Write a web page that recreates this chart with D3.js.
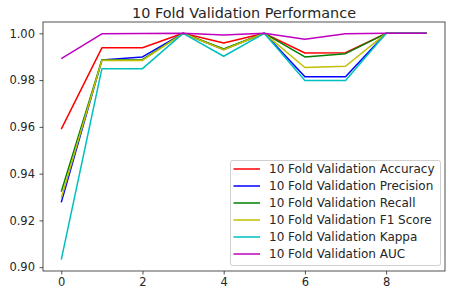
<!DOCTYPE html>
<html>
<head>
<meta charset="utf-8">
<script src="https://cdn.jsdelivr.net/npm/d3@7"></script>
<style>
  body { margin: 0; background: #fff; }
  text { font-family: "DejaVu Sans", sans-serif; }
</style>
</head>
<body>
<div id="chart"></div>
<script>
// data
var folds = [0, 1, 2, 3, 4, 5, 6, 7, 8, 9];
var accuracy  = [0.9590, 0.9938, 0.9938, 1.0000, 0.9959, 1.0000, 0.9916, 0.9917, 1.0000, 1.0000];
var precision = [0.9277, 0.9886, 0.9899, 1.0000, 0.9931, 1.0000, 0.9814, 0.9814, 1.0000, 1.0000];
var recall    = [0.9323, 0.9886, 0.9887, 1.0000, 0.9933, 1.0000, 0.9899, 0.9913, 1.0000, 1.0000];
var f1score   = [0.9296, 0.9885, 0.9884, 1.0000, 0.9930, 1.0000, 0.9854, 0.9859, 1.0000, 1.0000];
var kappa     = [0.9032, 0.9849, 0.9849, 1.0000, 0.9902, 1.0000, 0.9798, 0.9798, 1.0000, 1.0000];
var auc       = [0.9892, 0.9998, 0.9999, 1.0000, 0.9993, 1.0000, 0.9975, 0.9998, 1.0000, 1.0000];
var seriesNames = ["10 Fold Validation Accuracy", "10 Fold Validation Precision", "10 Fold Validation Recall",
                   "10 Fold Validation F1 Score", "10 Fold Validation Kappa", "10 Fold Validation AUC"];
var xTicks = [0, 2, 4, 6, 8];
var yTicks = [0.90, 0.92, 0.94, 0.96, 0.98, 1.00];

var w = 454, h = 294;
var plotLeft = 43, plotRight = 445, plotTop = 22, plotBottom = 271;
var colors = ["#ff0000", "#0000ff", "#008000", "#bfbf00", "#00bfbf", "#bf00bf"];
var allSeries = [accuracy, precision, recall, f1score, kappa, auc];

var svg = d3.select("#chart")
    .append("svg")
    .attr("width", w)
    .attr("height", h);

// matplotlib style 5% margins
var x = d3.scaleLinear().domain([-0.45, 9.45]).range([plotLeft, plotRight]);
var ymin = d3.min(allSeries, function(s) { return d3.min(s); });
var ymax = d3.max(allSeries, function(s) { return d3.max(s); });
var pad = (ymax - ymin) * 0.05;
var y = d3.scaleLinear().domain([ymin - pad, ymax + pad]).range([plotBottom, plotTop]);

var line = d3.line()
    .x(function(d, i) { return x(folds[i]); })
    .y(function(d) { return y(d); });

var plot = svg.append("g");
allSeries.forEach(function(s, i) {
    plot.append("path")
        .datum(s)
        .attr("d", line)
        .attr("fill", "none")
        .attr("stroke", colors[i])
        .attr("stroke-width", 1.5)
        .attr("stroke-linejoin", "round");
});

// axes
var xAxis = d3.axisBottom(x).tickValues(xTicks).tickSize(3.5).tickPadding(3.5).tickFormat(d3.format("d"));
var yAxis = d3.axisLeft(y).tickValues(yTicks).tickSize(3.5).tickPadding(4.5).tickFormat(d3.format(".2f"));

var gx = svg.append("g").attr("transform", "translate(0," + plotBottom + ")").call(xAxis);
var gy = svg.append("g").attr("transform", "translate(" + plotLeft + ",0)").call(yAxis);
[gx, gy].forEach(function(g) {
    g.select(".domain").remove();
    g.selectAll("text").style("font-size", "11.5px").attr("fill", "#262626").style("font-family", "DejaVu Sans");
    g.selectAll("line").attr("stroke", "#262626").attr("stroke-width", 0.8);
});

svg.append("rect")
    .attr("x", plotLeft)
    .attr("y", plotTop)
    .attr("width", plotRight - plotLeft)
    .attr("height", plotBottom - plotTop)
    .attr("fill", "none")
    .attr("stroke", "#262626")
    .attr("stroke-width", 0.8);

// title
svg.append("text")
    .attr("x", (plotLeft + plotRight) / 2)
    .attr("y", 17.5)
    .attr("text-anchor", "middle")
    .style("font-size", "14.4px")
    .attr("fill", "#262626")
    .text("10 Fold Validation Performance");

// legend
var legend = svg.append("g").attr("transform", "translate(230,160)");
legend.append("rect")
    .attr("x", 0.5)
    .attr("y", 0.5)
    .attr("width", 210)
    .attr("height", 105)
    .attr("rx", 2)
    .attr("fill", "#fff")
    .attr("fill-opacity", 0.8)
    .attr("stroke", "#d0d0d0")
    .attr("stroke-width", 1);

var items = legend.selectAll(".item")
    .data(seriesNames)
    .enter()
    .append("g")
    .attr("class", "item")
    .attr("transform", function(d, i) { return "translate(0," + (9 + 17 * i) + ")"; });

items.append("line")
    .attr("x1", 3.5)
    .attr("x2", 30)
    .attr("stroke", function(d, i) { return colors[i]; })
    .attr("stroke-width", 1.5);

items.append("text")
    .attr("x", 39)
    .attr("y", 4.3)
    .style("font-size", "12px")
    .attr("fill", "#262626")
    .text(function(d) { return d; });
</script>
</body>
</html>
